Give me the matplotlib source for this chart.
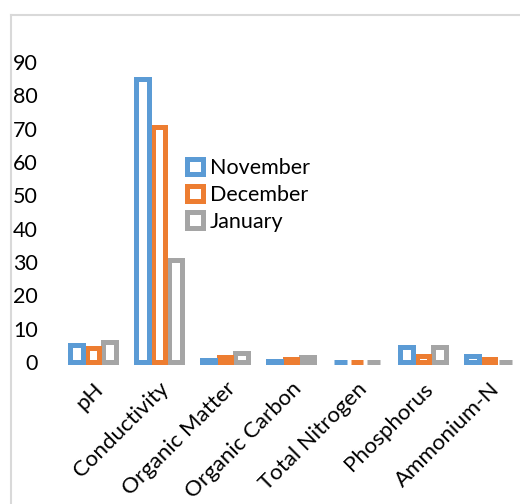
import matplotlib
matplotlib.use("Agg")
import matplotlib.pyplot as plt
import numpy as np
from matplotlib.patches import Rectangle
from matplotlib.lines import Line2D

categories = ["pH", "Conductivity", "Organic Matter", "Organic Carbon",
              "Total Nitrogen", "Phosphorus", "Ammonium-N"]
november = [5.2, 85.0, 0.75, 0.45, 0.15, 4.55, 1.85]
december = [4.35, 70.4, 1.65, 1.05, 0.15, 1.85, 0.85]
january = [6.15, 30.7, 2.85, 1.65, 0.15, 4.45, 0.15]
series_names = ["November", "December", "January"]
colors = ["#5B9BD5", "#ED7D31", "#A5A5A5"]
yticks = [0, 10, 20, 30, 40, 50, 60, 70, 80, 90]

W, H = 520, 504
fig = plt.figure(figsize=(W / 100, H / 100), dpi=100)
fig.patch.set_facecolor("white")

font = "Lato"
fs = 15.5

# chart frame (light gray, cropped on right/bottom)
fig.add_artist(Line2D([10.5 / W, 10.5 / W], [0, (H - 14.5) / H], color="#D9D9D9", lw=1.5,
                      transform=fig.transFigure))
fig.add_artist(Line2D([10.5 / W, 1], [(H - 14.5) / H, (H - 14.5) / H], color="#D9D9D9", lw=1.5,
                      transform=fig.transFigure))

ax_left, ax_right = 60, 522
ax_bottom, ax_top = 362, 62
ax = fig.add_axes([ax_left / W, (H - ax_bottom) / H, (ax_right - ax_left) / W, (ax_bottom - ax_top) / H])
ax.set_facecolor("none")

x = np.arange(len(categories))
spacing = 0.253
bw = 0.19
lw = 3.6
for i, (vals, c, name) in enumerate(zip([november, december, january], colors, series_names)):
    ax.bar(x + (i - 1) * spacing, vals, width=bw, facecolor="white", edgecolor=c,
           linewidth=lw, clip_on=False, label=name, zorder=3 - i * 0.1)

ax.set_xlim(-0.5, len(categories) - 0.5)
ax.set_ylim(0, 90)
ax.set_yticks(yticks)
ax.set_yticklabels([str(t) for t in yticks], fontsize=fs, family=font, color="#000000")
ax.tick_params(axis="y", length=0, pad=16)
ax.set_xticks(x)
ax.set_xticklabels(categories, rotation=45, ha="right", va="top", rotation_mode="anchor",
                   fontsize=16, family=font, color="#000000")
ax.tick_params(axis="x", length=0, pad=12)
for s in ax.spines.values():
    s.set_visible(False)

handles = [Rectangle((0, 0), 1, 1, facecolor="white", edgecolor=c, linewidth=lw) for c in colors]
leg = fig.legend(handles, series_names, loc="center left",
                 bbox_to_anchor=(187 / W, (H - 195) / H), frameon=False,
                 prop={"family": font, "size": fs}, handlelength=0.75, handleheight=0.75,
                 handletextpad=0.3, labelspacing=0.32, borderaxespad=0, borderpad=0)

fig.savefig("out.png", dpi=100, facecolor="white")
